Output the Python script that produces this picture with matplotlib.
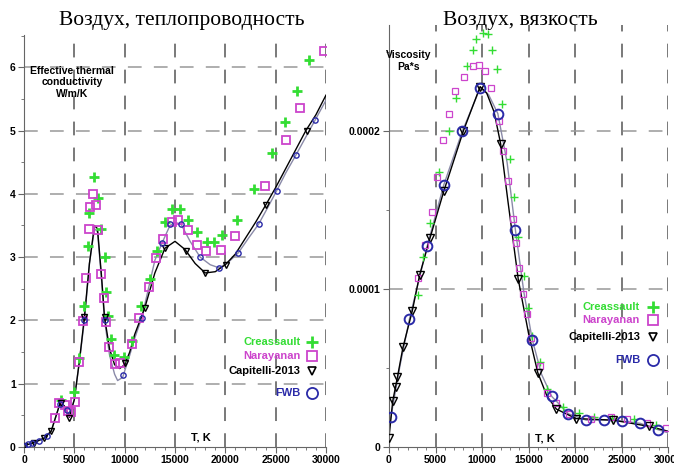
import matplotlib.pyplot as plt
from matplotlib.ticker import MultipleLocator

# %%
# Data
# Left panel: effective thermal conductivity of air, W/m/K

cre_k_T = [3700, 5000, 5500, 6000, 6400, 6500, 7000, 7400, 7600, 8000, 8100, 8300, 8600, 8900,
           9900, 10700, 11600, 12500, 13200, 14000, 14700, 15500, 16300, 17200, 18200, 18900,
           19700, 21200, 22800, 24600, 25900, 27100, 28300]
cre_k = [0.74, 0.87, 1.40, 2.23, 3.17, 3.70, 4.26, 3.93, 3.44, 3.00, 2.45, 2.07, 1.70, 1.46,
         1.42, 1.67, 2.23, 2.65, 3.10, 3.55, 3.76, 3.76, 3.58, 3.40, 3.24, 3.24,
         3.35, 3.58, 4.07, 4.64, 5.14, 5.62, 6.12]

nar_k_T = [3100, 3500, 4100, 4400, 4700, 5100, 5500, 5900, 6200, 6500, 6600, 6900, 7200, 7400,
           7600, 7900, 8100, 8400, 9000, 9500, 10700, 11400, 12400, 13100, 13800, 14700,
           15300, 16300, 17200, 18100, 19600, 21000, 23900, 26000, 27400, 29800]
nar_k = [0.46, 0.69, 0.66, 0.57, 0.56, 0.71, 1.34, 1.99, 2.67, 3.45, 3.80, 4.00, 3.82, 3.43,
         2.73, 2.36, 1.97, 1.58, 1.31, 1.33, 1.63, 2.04, 2.53, 2.99, 3.28, 3.55,
         3.58, 3.43, 3.19, 3.10, 3.11, 3.34, 4.12, 4.85, 5.35, 6.25]

cap_k_T = [0, 1000, 2000, 2700, 3700, 4500, 6000, 8000, 10000, 12000, 14000, 16100, 18000,
           20100, 24000, 28100]
cap_k = [0.02, 0.07, 0.15, 0.25, 0.70, 0.46, 2.05, 2.05, 1.33, 2.20, 3.14, 3.10, 2.75,
         2.88, 3.82, 5.00]

fwb_k_T = [0, 400, 800, 1500, 2300, 3600, 4300, 6000, 8000, 9800, 11700, 13700, 14500, 15600,
           17500, 19400, 21300, 23300, 25100, 27000, 28900]
fwb_k = [0.02, 0.04, 0.06, 0.10, 0.17, 0.68, 0.58, 2.00, 2.00, 1.13, 2.04, 3.22, 3.52, 3.52,
         3.00, 2.83, 3.07, 3.52, 4.05, 4.61, 5.16]

# curves drawn through the model results
cap_k_line_T = [0, 1000, 2000, 2700, 3200, 3600, 4000, 4500, 5000, 5500, 6000, 6500, 7000,
                7300, 7700, 8000, 8500, 9000, 9500, 10000, 10500, 11000, 12000, 13000, 14000,
                15000, 16000, 17000, 18000, 19000, 20000, 21000, 22000, 23000, 24000, 25000,
                26000, 27000, 28000, 29000, 30000]
cap_k_line = [0.02, 0.07, 0.14, 0.25, 0.50, 0.70, 0.65, 0.47, 0.75, 1.35, 2.05, 2.90, 3.50,
              3.45, 2.70, 2.05, 1.55, 1.30, 1.24, 1.30, 1.50, 1.78, 2.20, 2.75, 3.14,
              3.25, 3.12, 2.90, 2.75, 2.77, 2.88, 3.05, 3.30, 3.55, 3.82, 4.10,
              4.40, 4.70, 5.00, 5.25, 5.56]

fwb_k_line_T = [0, 1000, 2000, 2700, 3200, 3600, 4000, 4500, 5000, 5500, 6000, 6500, 7000,
                7300, 7700, 8000, 8500, 9000, 9300, 9800, 10500, 11000, 11700, 12500, 13000,
                13700, 14500, 15000, 15600, 16500, 17500, 18500, 19400, 20300, 21300, 22300,
                23300, 24200, 25100, 26000, 27000, 28000, 28900, 30000]
fwb_k_line = [0.02, 0.07, 0.14, 0.25, 0.50, 0.70, 0.65, 0.50, 0.75, 1.35, 2.00, 2.90, 3.45,
              3.40, 2.65, 2.00, 1.45, 1.15, 1.05, 1.10, 1.45, 1.72, 2.04, 2.60, 2.95,
              3.22, 3.50, 3.55, 3.52, 3.25, 3.00, 2.88, 2.83, 2.92, 3.07, 3.30,
              3.52, 3.78, 4.05, 4.33, 4.61, 4.90, 5.16, 5.48]

# Right panel: viscosity of air, Pa*s
cre_v_T = [3100, 3700, 4400, 5400, 6400, 7200, 8400, 9000, 9400, 10100, 10600, 11100, 11600,
           12100, 13000, 13400, 13900, 14500, 14900, 15400, 16200, 17000, 18700, 20400,
           22000, 24000, 26300, 28700]
cre_v = [0.96e-4, 1.20e-4, 1.42e-4, 1.74e-4, 2.00e-4, 2.21e-4, 2.41e-4, 2.51e-4, 2.58e-4,
         2.62e-4, 2.61e-4, 2.51e-4, 2.39e-4, 2.17e-4, 1.82e-4, 1.58e-4, 1.33e-4, 1.08e-4,
         0.88e-4, 0.70e-4, 0.54e-4, 0.37e-4, 0.25e-4, 0.215e-4, 0.19e-4, 0.185e-4,
         0.18e-4, 0.14e-4]

nar_v_T = [3100, 3900, 4600, 5200, 5800, 6500, 7100, 8100, 9000, 9700, 10300, 11000, 11800,
           12300, 12800, 13300, 13700, 14000, 14400, 14800, 15300, 16200, 17000, 18000,
           19400, 21700, 23900, 25600, 27700, 29800]
nar_v = [1.07e-4, 1.28e-4, 1.49e-4, 1.71e-4, 1.94e-4, 2.11e-4, 2.25e-4, 2.34e-4, 2.41e-4,
         2.42e-4, 2.38e-4, 2.27e-4, 2.06e-4, 1.87e-4, 1.68e-4, 1.44e-4, 1.29e-4, 1.13e-4,
         0.97e-4, 0.84e-4, 0.69e-4, 0.51e-4, 0.34e-4, 0.28e-4, 0.21e-4, 0.18e-4,
         0.19e-4, 0.18e-4, 0.15e-4, 0.12e-4]

cap_v_T = [0, 400, 700, 900, 1500, 2500, 3300, 4400, 5900, 8000, 9800, 12000, 13900, 16000,
           18000, 20100, 24100, 28000]
cap_v = [0.06e-4, 0.29e-4, 0.38e-4, 0.44e-4, 0.63e-4, 0.86e-4, 1.09e-4, 1.32e-4, 1.62e-4,
         2.00e-4, 2.28e-4, 1.92e-4, 1.06e-4, 0.47e-4, 0.24e-4, 0.18e-4, 0.17e-4, 0.13e-4]

fwb_v_T = [200, 2200, 4100, 5900, 7900, 9800, 11700, 13600, 15400, 17500, 19300, 21200,
           23100, 25000, 27000, 28900]
fwb_v = [0.19e-4, 0.81e-4, 1.27e-4, 1.66e-4, 2.00e-4, 2.27e-4, 2.11e-4, 1.37e-4, 0.68e-4,
         0.32e-4, 0.21e-4, 0.17e-4, 0.17e-4, 0.165e-4, 0.15e-4, 0.11e-4]

cap_v_line_T = [0, 400, 900, 1500, 2500, 3300, 4400, 5900, 8000, 9800, 10500, 11300, 12000,
                12800, 13900, 15000, 16000, 17000, 18000, 20100, 24100, 28000, 30000]
cap_v_line = [0.06e-4, 0.29e-4, 0.44e-4, 0.63e-4, 0.86e-4, 1.09e-4, 1.32e-4, 1.62e-4,
              2.00e-4, 2.28e-4, 2.24e-4, 2.12e-4, 1.92e-4, 1.55e-4, 1.06e-4, 0.72e-4,
              0.47e-4, 0.32e-4, 0.24e-4, 0.18e-4, 0.17e-4, 0.13e-4, 0.10e-4]

fwb_v_line_T = [0, 200, 1200, 2200, 4100, 5900, 7900, 9800, 10700, 11700, 12700, 13600,
                14500, 15400, 16400, 17500, 19300, 21200, 23100, 25000, 27000, 28900, 30000]
fwb_v_line = [0.12e-4, 0.19e-4, 0.52e-4, 0.81e-4, 1.27e-4, 1.66e-4, 2.00e-4, 2.27e-4,
              2.23e-4, 2.11e-4, 1.80e-4, 1.37e-4, 0.98e-4, 0.68e-4, 0.46e-4, 0.32e-4,
              0.21e-4, 0.17e-4, 0.17e-4, 0.165e-4, 0.15e-4, 0.11e-4, 0.09e-4]

x_ticks = [0, 5000, 10000, 15000, 20000, 25000, 30000]
x_labels = ["0", "5000", "10000", "15000", "20000", "25000", "30000"]
k_ticks = [0, 1, 2, 3, 4, 5, 6]
v_ticks = [0, 1e-4, 2e-4]
v_labels = ["0", "0.0001", "0.0002"]

legend_names = ["Creassault", "Narayanan", "Capitelli-2013", "FWB"]

GREEN = "#33dd33"
MAGENTA = "#cc44cc"
BLUE = "#2a2aa8"
LINE2 = "#8a8aa8"
BOLD = dict(family="Liberation Sans", weight="bold")

fig = plt.figure(figsize=(6.74, 4.66), dpi=100)
axk = fig.add_axes([24 / 674, 19 / 466, 302 / 674, 412 / 466])
axv = fig.add_axes([389 / 674, 19 / 466, 279 / 674, 422 / 466])


def style_axes(ax, yticks, ylabels, ymax, yminor):
    for s in ["top", "right"]:
        ax.spines[s].set_visible(False)
    for s in ["left", "bottom"]:
        ax.spines[s].set_color("#666666")
    ax.set_xlim(0, 30000)
    ax.set_ylim(0, ymax)
    ax.set_xticks(x_ticks)
    ax.set_xticklabels(x_labels, **BOLD, fontsize=7.5)
    ax.set_yticks(yticks)
    ax.set_yticklabels(ylabels, **BOLD, fontsize=7.5)
    ax.xaxis.set_minor_locator(MultipleLocator(1000))
    ax.yaxis.set_minor_locator(MultipleLocator(yminor))
    ax.tick_params(which="major", length=4, color="#666666", pad=2)
    ax.tick_params(which="minor", length=2.5, color="#666666")
    for t in x_ticks[1:]:
        ax.axvline(t, color="#555555", lw=1.1, dashes=(9, 8), zorder=0)
    for t in yticks[1:]:
        ax.axhline(t, color="#999999", lw=1.1, dashes=(9, 8), zorder=0)


style_axes(axk, k_ticks, [str(t) for t in k_ticks], 6.51, 0.5)
style_axes(axv, v_ticks, v_labels, 2.67e-4, 0.5e-4)

# thermal conductivity
axk.plot(fwb_k_line_T, fwb_k_line, color=LINE2, lw=1.0, zorder=2)
axk.plot(cap_k_line_T, cap_k_line, color="black", lw=1.0, zorder=2)
axk.plot(cre_k_T, cre_k, ls="none", marker="+", ms=7, mew=2, color=GREEN, zorder=3)
axk.plot(nar_k_T, nar_k, ls="none", marker="s", ms=5.5, mew=1.3, mfc="none", mec=MAGENTA, zorder=3)
axk.plot(cap_k_T, cap_k, ls="none", marker="v", ms=5, mew=1, mfc="none", mec="black", zorder=4)
axk.plot(fwb_k_T, fwb_k, ls="none", marker="o", ms=3.8, mew=1, mfc="none", mec=BLUE, zorder=4)

# viscosity
axv.plot(fwb_v_line_T, fwb_v_line, color=LINE2, lw=1.0, zorder=2)
axv.plot(cap_v_line_T, cap_v_line, color="black", lw=1.0, zorder=2)
axv.plot(cre_v_T, cre_v, ls="none", marker="+", ms=6, mew=1, color=GREEN, zorder=3)
axv.plot(nar_v_T, nar_v, ls="none", marker="s", ms=5, mew=0.9, mfc="none", mec=MAGENTA, zorder=3)
axv.plot(cap_v_T, cap_v, ls="none", marker="v", ms=5.5, mew=1, mfc="none", mec="black", zorder=4)
axv.plot(fwb_v_T, fwb_v, ls="none", marker="o", ms=7, mew=1.4, mfc="none", mec=BLUE, zorder=4)

# hand-placed legends: coloured text with the marker to its right
leg_styles = [
    dict(marker="+", color=GREEN, mew=2, ms=8),
    dict(marker="s", color=MAGENTA, mfc="none", mew=1.3, ms=7),
    dict(marker="v", color="black", mfc="none", mew=1.2, ms=6),
    dict(marker="o", color=BLUE, mfc="none", mew=1.3, ms=8),
]
leg_colors = [GREEN, MAGENTA, "black", BLUE]


def draw_legend(ax, x_text, x_mark, ys):
    for name, c, st, y in zip(legend_names, leg_colors, leg_styles, ys):
        ax.text(x_text, y, name, transform=ax.transAxes, ha="right", va="center",
                color=c, fontsize=8, **BOLD)
        ax.plot([x_mark], [y], transform=ax.transAxes, ls="none", clip_on=False, **st)


draw_legend(axk, 0.915, 0.955, [0.255, 0.22, 0.185, 0.13])
draw_legend(axv, 0.90, 0.945, [0.331, 0.30, 0.26, 0.206])

axk.text(0.16, 0.885, "Effective thermal\nconductivity\nW/m/K", transform=axk.transAxes,
         ha="center", va="center", fontsize=7.5, linespacing=1.2, **BOLD)
axv.text(0.07, 0.915, "Viscosity\nPa*s", transform=axv.transAxes,
         ha="center", va="center", fontsize=7.5, linespacing=1.2, **BOLD)
axk.text(0.585, 0.023, "T, K", transform=axk.transAxes, ha="center", va="center",
         fontsize=8, **BOLD)
axv.text(0.56, 0.02, "T, K", transform=axv.transAxes, ha="center", va="center",
         fontsize=8, **BOLD)

fig.text(182 / 674, 1 - 20 / 466, "Воздух, теплопроводность", ha="center", va="center",
         fontsize=15.5, family="Liberation Serif")
fig.text(520 / 674, 1 - 20 / 466, "Воздух, вязкость", ha="center", va="center",
         fontsize=15.5, family="Liberation Serif")

fig.savefig("out.png", dpi=100)
